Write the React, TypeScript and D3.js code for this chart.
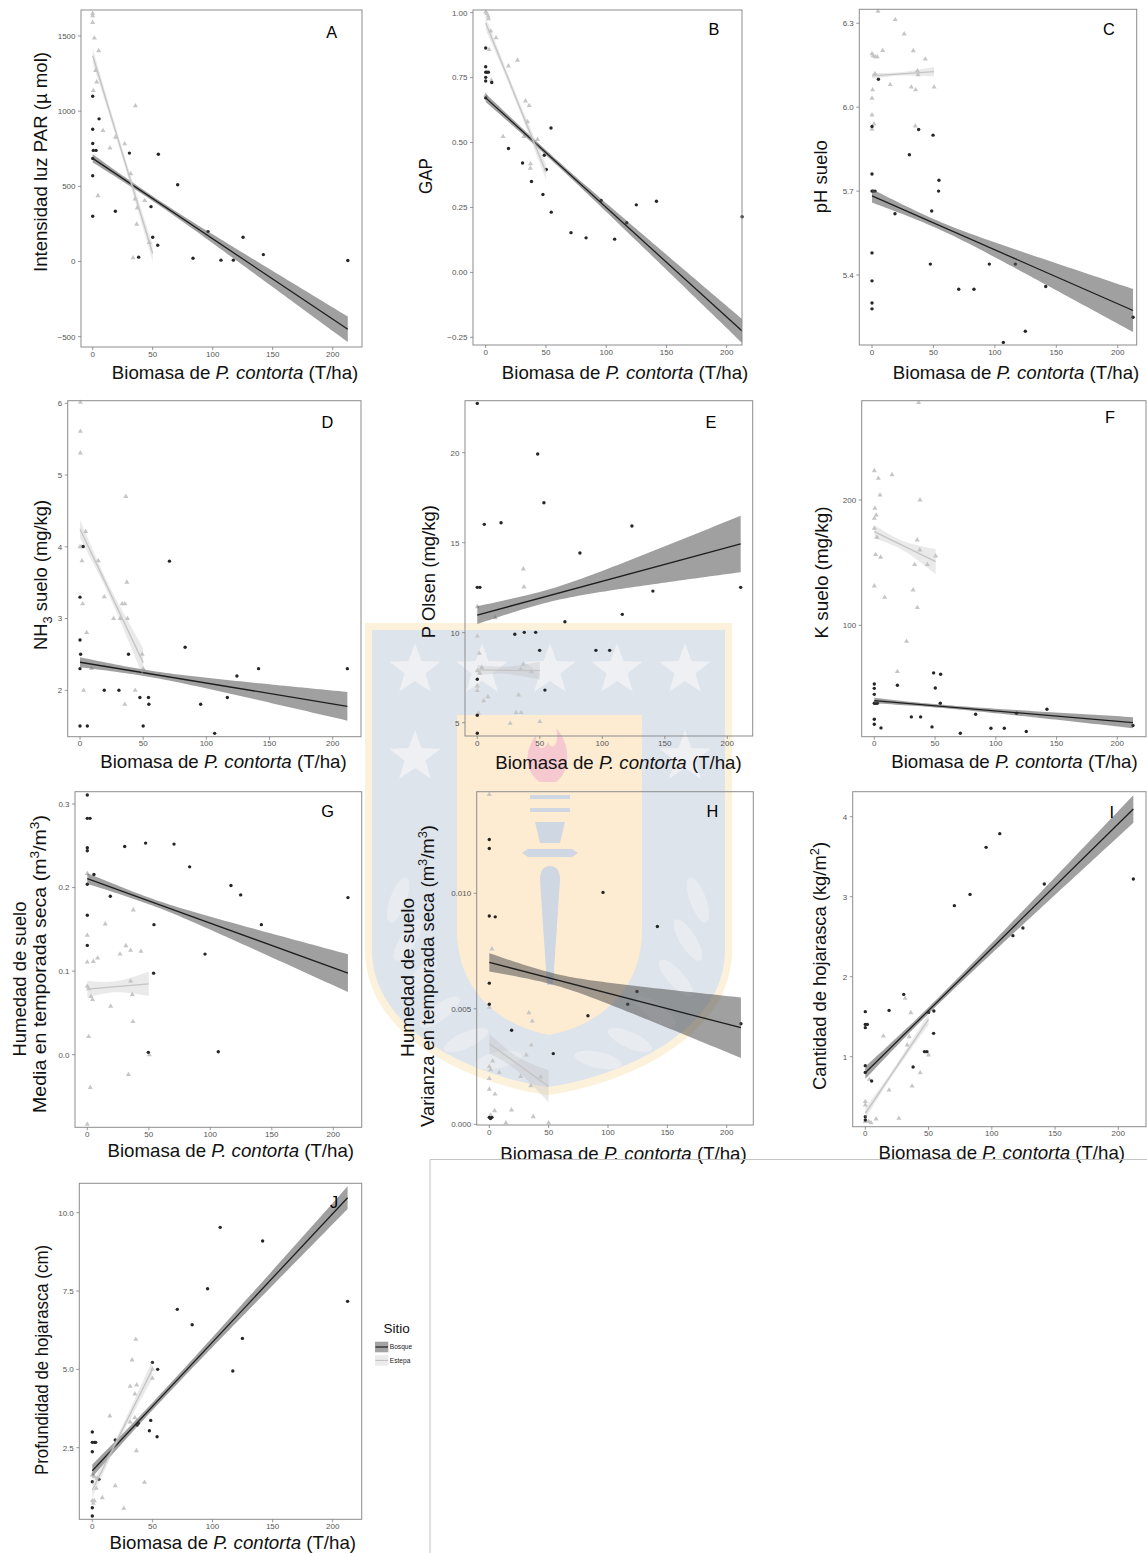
import React from "react";
import * as d3 from "d3";

type Pt = [number, number];
// fit: [xStart, xEnd, yStart, yEnd, bandHalfStart, bandHalfMin, bandHalfEnd, xAtMin]
type Fit = [number, number, number, number, number, number, number, number];

const xTicks = [0, 50, 100, 150, 200];

// ---------- A: Intensidad luz PAR ----------
const aYTicks = [-500, 0, 500, 1000, 1500];
const aBosque: Pt[] = [[0,1099],[0,880],[0,785],[0.5,739],[2.8,739],[0,686],[0,571],[0,301],[5.3,949],[18.9,334],[30.6,721],[38.3,29],[48.6,365],[50,161],[54.2,108],[54.7,714],[70.8,511],[83.6,22],[96.1,199],[106.9,9],[117.2,9],[125.3,161],[142.2,46],[212.6,7]];
const aEstepa: Pt[] = [[0,1650],[0,1635],[0,1590],[1.4,1486],[5,1402],[2.5,1270],[3.3,1194],[0.5,1137],[35.6,1035],[8.6,871],[19,827],[26.7,783],[14.4,754],[31.7,584],[4.4,438],[35.3,416],[43.3,405],[37.2,356],[36.7,248],[47.2,126],[33.6,24]];
const aFitBosque: Fit = [0, 212.6, 686, -451, 27, 16, 85, 52];
const aFitEstepa: Fit = [0, 50, 1369, 53, 50, 30, 55, 20];

// ---------- B: GAP ----------
const bYTicks = [-0.25, 0, 0.25, 0.5, 0.75, 1.0];
const bBosque: Pt[] = [[0,0.864],[0,0.792],[0,0.771],[1,0.771],[2.2,0.771],[0,0.751],[0,0.737],[0,0.672],[5,0.731],[18.9,0.477],[30.6,0.421],[38,0.35],[47.5,0.30],[48.6,0.451],[50.3,0.396],[54.2,0.556],[54.4,0.232],[70.8,0.153],[83.3,0.133],[95.8,0.277],[107,0.128],[117,0.191],[125,0.260],[141.7,0.274],[212.8,0.214]];
const bEstepa: Pt[] = [[0,1.003],[1,0.996],[2,0.987],[2.3,0.977],[4.2,0.929],[8.6,0.903],[2.8,0.858],[26.4,0.817],[18.9,0.795],[4.7,0.74],[0,0.682],[33,0.66],[36.1,0.642],[34.7,0.58],[14.4,0.523],[31.7,0.523],[43,0.512],[37.2,0.418],[37,0.401]];
const bFitBosque: Fit = [0, 212.8, 0.672, -0.226, 0.016, 0.01, 0.046, 52];
const bFitEstepa: Fit = [0, 50, 0.96, 0.387, 0.025, 0.015, 0.03, 20];

// ---------- C: pH suelo ----------
const cYTicks = [5.4, 5.7, 6.0, 6.3];
const cBosque: Pt[] = [[0,5.931],[0,5.761],[0,5.70],[1,5.70],[2.5,5.70],[0,5.479],[0,5.379],[0,5.30],[0,5.279],[5.2,6.10],[18.7,5.619],[30.4,5.830],[38,5.92],[47.5,5.439],[48.6,5.629],[49.7,5.90],[54.5,5.739],[54.2,5.70],[70.6,5.349],[83,5.349],[95.5,5.439],[106.9,5.159],[116.7,5.439],[124.8,5.199],[141.4,5.359],[212.5,5.249]];
const cEstepa: Pt[] = [[4.9,6.343],[18.9,6.313],[26.2,6.262],[0,6.191],[1,6.184],[2.5,6.18],[4.3,6.18],[8.7,6.203],[33.6,6.202],[43.4,6.172],[2.5,6.12],[37,6.13],[37.5,6.116],[14.8,6.081],[32,6.072],[35.5,6.062],[50.5,6.072],[0.5,6.062],[0,6.032],[0,5.972],[1.6,5.94],[0,5.921],[35.2,5.933]];
const cFitBosque: Fit = [0, 212.5, 5.683, 5.273, 0.024, 0.014, 0.077, 52];
const cFitEstepa: Fit = [0, 50.5, 6.112, 6.127, 0.01, 0.006, 0.017, 20];

// ---------- D: NH3 suelo ----------
const dYTicks = [2, 3, 4, 5, 6];
const dBosque: Pt[] = [[0,3.298],[0,2.702],[0.5,2.502],[0,2.302],[0,1.502],[2.6,4.005],[5.8,1.502],[19.2,2.0],[30.8,2.0],[38.4,2.502],[47.4,1.9],[50,1.502],[54.2,1.9],[54.5,1.805],[70.8,3.8],[83.2,2.6],[95.5,1.805],[106.6,1.4],[116.6,1.9],[124.2,2.2],[141.3,2.302],[211.6,2.302]];
const dEstepa: Pt[] = [[0.3,6.014],[0.3,5.609],[0.3,5.307],[36.3,4.702],[0,4.0],[1,4.0],[4.5,4.214],[1.6,3.805],[14.5,3.805],[37.1,3.507],[19.2,3.302],[33.4,3.205],[35.5,3.205],[2.1,3.205],[26.6,3.0],[31.8,3.0],[37.6,3.0],[5.3,2.805],[49.2,2.502],[50,2.3],[9,2.302],[2.9,2.0],[43.7,2.0],[35.5,1.805]];
const dFitBosque: Fit = [0, 211.6, 2.391, 1.777, 0.07, 0.045, 0.2, 52];
const dFitEstepa: Fit = [0, 50, 4.247, 2.386, 0.13, 0.07, 0.2, 20];

// ---------- E: P Olsen ----------
const eYTicks = [5, 10, 15, 20];
const eBosque: Pt[] = [[0,22.74],[0,12.52],[2.1,12.52],[0,7.41],[0,5.41],[0,4.41],[5.6,16.02],[19,16.11],[30,9.91],[37.6,10.02],[46.7,10.02],[48.3,19.93],[49.9,9.02],[53.3,17.22],[54.1,6.81],[70.1,10.61],[82.1,14.43],[94.9,9.02],[105.9,9.02],[116,11.02],[123.7,15.93],[140.5,12.31],[210.7,12.52]];
const eEstepa: Pt[] = [[36.8,13.54],[0,11.44],[37.3,12.54],[14.4,10.83],[0,9.81],[1.6,8.85],[3.5,8.07],[0,7.89],[2.1,7.74],[36.8,8.24],[34.8,7.96],[43.4,7.83],[0,7.04],[0,6.78],[8.5,6.44],[5.1,6.22],[33,6.54],[31.1,5.56],[35.1,5.56],[1,5.52],[26.3,4.96],[50,5.06]];
const eFitBosque: Fit = [0, 210.7, 10.98, 14.93, 0.5, 0.35, 1.57, 52];
const eFitEstepa: Fit = [0, 50, 7.93, 7.89, 0.27, 0.2, 0.5, 20];

// ---------- F: K suelo ----------
const fYTicks = [100, 200];
const fBosque: Pt[] = [[0,53.2],[0,49.7],[0,44.9],[0,37.8],[1.1,37.8],[2.5,37.8],[0,25],[0,21],[5.5,18.1],[19,52.1],[30.5,26.9],[38.1,26.9],[47.5,18.9],[48.8,62],[50.2,50],[54.3,37.8],[54.6,60.9],[70.8,13.8],[83.4,29],[96,17.8],[107,17.8],[117.1,29.8],[125.1,15.2],[142.1,33],[212.9,20]];
const fEstepa: Pt[] = [[36.5,277.7],[0,223.4],[14.6,220.2],[3.3,217.3],[4.7,204],[37.6,200],[0.5,193.4],[1.6,188],[0,185.4],[0,177.4],[2.2,170.2],[35.4,168.1],[37.4,160.1],[1.1,156.4],[5.2,154.3],[50.5,155.3],[43.7,148.4],[33.2,148.4],[0,131.4],[31.9,128.2],[8.5,122.3],[35.4,114.1],[26.6,87.2],[19,63]];
const fFitBosque: Fit = [0, 212.9, 39.9, 22.3, 2.2, 1.3, 4.4, 52];
const fFitEstepa: Fit = [0, 50.5, 174.7, 150.8, 5.3, 3.5, 10, 20];

// ---------- G: Humedad media ----------
const gYTicks = [0, 0.1, 0.2, 0.3];
const gBosque: Pt[] = [[0,0.3108],[0,0.2828],[2.2,0.2828],[0,0.2476],[0,0.244],[0,0.204],[0,0.1668],[0,0.1308],[5.4,0.2156],[18.7,0.1896],[30.4,0.2492],[47.4,0.2532],[49.6,0.0028],[54.2,0.1556],[53.9,0.0976],[70.5,0.252],[83.2,0.2248],[95.7,0.1204],[106.5,0.0036],[116.8,0.2024],[124.7,0.1912],[141.5,0.1556],[211.9,0.188]];
const gEstepa: Pt[] = [[0,0.2168],[0,0.1428],[0,0.1108],[4.9,0.1116],[8.4,0.1156],[14.6,0.1564],[26.6,0.1204],[31.4,0.1304],[35.2,0.1248],[43.6,0.1236],[37.4,0.1732],[35.2,0.088],[36.6,0.072],[0,0.082],[1,0.0788],[3,0.0696],[4.3,0.066],[19,0.058],[37.1,0.0396],[1.1,0.0216],[50.4,0.0],[33.4,-0.0236],[2.4,-0.0392],[0,-0.0832]];
const gFitBosque: Fit = [0, 211.9, 0.2108, 0.0976, 0.0064, 0.004, 0.0226, 52];
const gFitEstepa: Fit = [0, 50, 0.0784, 0.0848, 0.01, 0.0065, 0.0146, 20];

// ---------- H: Humedad varianza ----------
const hYTicks = [0, 0.005, 0.01];
const hBosque: Pt[] = [[0,0.01233],[0,0.01194],[0,0.00902],[5,0.00898],[0,0.00611],[0,0.0052],[0,0.0003],[2.2,0.0003],[1,0.00025],[18.8,0.00407],[53.9,0.00306],[83.1,0.0047],[95.8,0.01004],[116.6,0.0052],[124.4,0.00575],[141.6,0.00856],[212,0.00435]];
const hEstepa: Pt[] = [[0,0.01428],[2.2,0.00759],[0,0.00507],[33.4,0.00483],[36.2,0.00447],[35.4,0.00343],[31.2,0.003],[2.8,0.00274],[0,0.0025],[1.1,0.00236],[8.4,0.00224],[0,0.00198],[26.4,0.00207],[43.3,0.00205],[0,0.00152],[35,0.00167],[4.8,0.00131],[4.5,0.00059],[18.7,0.00062],[1.1,0.0004],[37,0.00033],[14,0.00006],[50,0.00006]];
const hFitBosque: Fit = [0, 212, 0.00701, 0.00418, 0.0004, 0.00025, 0.00131, 52];
const hFitEstepa: Fit = [0, 50, 0.00349, 0.00164, 0.00043, 0.0003, 0.0007, 20];

// ---------- I: Cantidad de hojarasca ----------
const iYTicks = [1, 2, 3, 4];
const iBosque: Pt[] = [[0,1.563],[0,1.404],[1.6,1.404],[0,1.363],[0,0.888],[0,0.804],[0,0.25],[0,0.208],[5,0.696],[18.8,1.579],[30.4,1.779],[37.8,0.871],[46.8,1.063],[48.7,1.063],[50,1.554],[54.2,1.571],[54,1.292],[70.4,2.888],[82.8,3.029],[95.5,3.617],[106.3,3.788],[116.7,2.513],[124.6,2.608],[141.5,3.158],[211.9,3.221]];
const iEstepa: Pt[] = [[0,0.438],[0,0.396],[0,0.19],[1,0.19],[2.7,0.19],[4.5,0.175],[8.5,0.221],[26.5,0.229],[3.2,0.717],[18.8,0.583],[14.3,1.258],[31.5,1.729],[36,1.55],[34.7,1.25],[33.1,1.146],[37,0.633],[43.4,0.8],[50,1.021]];
const iFitBosque: Fit = [0, 211.9, 0.8, 4.096, 0.077, 0.04, 0.173, 52];
const iFitEstepa: Fit = [0, 50, 0.292, 1.467, 0.07, 0.035, 0.07, 20];

// ---------- J: Profundidad de hojarasca ----------
const jYTicks = [2.5, 5.0, 7.5, 10.0];
const jBosque: Pt[] = [[0,3.0],[0,2.67],[1.7,2.67],[2.8,2.67],[0,2.372],[0,1.415],[0,0.585],[0,0.319],[5.5,1.49],[19.1,2.745],[37.3,3.223],[38.3,3.28],[47.5,3.04],[48.6,3.372],[50,5.223],[53.9,2.851],[54.4,5.0],[70.7,6.915],[83.1,6.426],[95.9,7.574],[106.4,9.532],[116.9,4.947],[124.9,5.989],[141.7,9.096],[212.4,7.17]];
const jEstepa: Pt[] = [[36.2,5.957],[33.1,5.298],[31.5,4.457],[37,4.5],[35.4,4.213],[50,5.01],[50,4.713],[14.6,3.511],[35.4,3.457],[31.5,3.319],[36.7,2.404],[19.1,1.287],[43.4,1.394],[0,1.628],[1.7,1.575],[4.1,1.521],[3.3,1.202],[8.3,0.904],[0,0.809],[1.7,0.809],[0.8,0.723],[26.2,0.564]];
const jFitBosque: Fit = [0, 212.4, 1.766, 10.479, 0.2, 0.12, 0.362, 52];
const jFitEstepa: Fit = [0, 50, 1.149, 5.0, 0.25, 0.12, 0.3, 20];

const legendTitle = "Sitio";
const legendLabels = ["Bosque", "Estepa"];

// ---------------- layout ----------------
type Part = { t: string; sub?: boolean; sup?: boolean; it?: boolean };
type YTitle = { parts: Part[]; cx: number; cy: number; len: number };
type PanelDef = {
  id: string;
  bosque: Pt[]; estepa: Pt[]; fitB: Fit; fitE: Fit;
  yTicks: number[]; yFmt: string;
  rect: [number, number, number, number];
  xPx: [number, number];
  yVals: [number, number]; yPx: [number, number];
  letter: [number, number];
  xTitle: [number, number];
  yTitles: YTitle[];
};

const P = (t: string): Part => ({ t });

const PANELS: PanelDef[] = [
  { id: "A", bosque: aBosque, estepa: aEstepa, fitB: aFitBosque, fitE: aFitEstepa, yTicks: aYTicks, yFmt: "d",
    rect: [81, 10, 362, 347], xPx: [92.7, 332.7], yVals: [1500, -500], yPx: [36, 336.7], letter: [331.7, 32.5], xTitle: [358.3, 379.3],
    yTitles: [{ parts: [P("Intensidad luz PAR (\u00b5 mol)")], cx: 40, cy: 162, len: 220 }] },
  { id: "B", bosque: bBosque, estepa: bEstepa, fitB: bFitBosque, fitE: bFitEstepa, yTicks: bYTicks, yFmt: ".2f",
    rect: [473, 10, 742, 345], xPx: [485.7, 726.7], yVals: [1, -0.25], yPx: [12.7, 337.3], letter: [714, 28.8], xTitle: [748.3, 379],
    yTitles: [{ parts: [P("GAP")], cx: 425, cy: 176, len: 36 }] },
  { id: "C", bosque: cBosque, estepa: cEstepa, fitB: cFitBosque, fitE: cFitEstepa, yTicks: cYTicks, yFmt: ".1f",
    rect: [859.3, 9.3, 1136.7, 345], xPx: [872, 1117.7], yVals: [6.3, 5.4], yPx: [23.3, 275], letter: [1109, 29], xTitle: [1139.3, 379],
    yTitles: [{ parts: [P("pH suelo")], cx: 820.5, cy: 176.7, len: 73 }] },
  { id: "D", bosque: dBosque, estepa: dEstepa, fitB: dFitBosque, fitE: dFitEstepa, yTicks: dYTicks, yFmt: "d",
    rect: [67.7, 400.7, 361, 736.7], xPx: [80, 332.7], yVals: [6, 2], yPx: [403.3, 690.3], letter: [327.5, 421.7], xTitle: [346.7, 767.7],
    yTitles: [{ parts: [P("NH"), { t: "3", sub: true }, P(" suelo (mg/kg)")], cx: 40, cy: 575, len: 150 }] },
  { id: "E", bosque: eBosque, estepa: eEstepa, fitB: eFitBosque, fitE: eFitEstepa, yTicks: eYTicks, yFmt: "d",
    rect: [465, 400.7, 752.7, 736], xPx: [477.3, 727.3], yVals: [20, 5], yPx: [452.7, 722.7], letter: [711, 421.7], xTitle: [741.7, 769],
    yTitles: [{ parts: [P("P Olsen (mg/kg)")], cx: 428, cy: 571.7, len: 133 }] },
  { id: "F", bosque: fBosque, estepa: fEstepa, fitB: fFitBosque, fitE: fFitEstepa, yTicks: fYTicks, yFmt: "d",
    rect: [861.7, 400.7, 1146, 736.7], xPx: [874.3, 1117.3], yVals: [200, 100], yPx: [500, 625.3], letter: [1110, 417], xTitle: [1137.7, 767.7],
    yTitles: [{ parts: [P("K suelo (mg/kg)")], cx: 821.5, cy: 572.5, len: 132 }] },
  { id: "G", bosque: gBosque, estepa: gEstepa, fitB: gFitBosque, fitE: gFitEstepa, yTicks: gYTicks, yFmt: ".1f",
    rect: [75, 791.7, 361.7, 1127.3], xPx: [87.3, 333.3], yVals: [0.3, 0], yPx: [804, 1054.7], letter: [327.5, 810.8], xTitle: [354, 1157],
    yTitles: [
      { parts: [P("Humedad de suelo")], cx: 19, cy: 979, len: 155 },
      { parts: [P("Media en temporada seca (m"), { t: "3", sup: true }, P("/m"), { t: "3", sup: true }, P(")")], cx: 39, cy: 964, len: 298 },
    ] },
  { id: "H", bosque: hBosque, estepa: hEstepa, fitB: hFitBosque, fitE: hFitEstepa, yTicks: hYTicks, yFmt: ".3f",
    rect: [476.7, 791.7, 753.3, 1125], xPx: [489.3, 726.7], yVals: [0.01, 0], yPx: [893.3, 1124.3], letter: [712.5, 810.8], xTitle: [746.7, 1160],
    yTitles: [
      { parts: [P("Humedad de suelo")], cx: 407, cy: 977.5, len: 159 },
      { parts: [P("Varianza en temporada seca (m"), { t: "3", sup: true }, P("/m"), { t: "3", sup: true }, P(")")], cx: 427, cy: 976, len: 302 },
    ] },
  { id: "I", bosque: iBosque, estepa: iEstepa, fitB: iFitBosque, fitE: iFitEstepa, yTicks: iYTicks, yFmt: "d",
    rect: [852.7, 791.7, 1146, 1126.7], xPx: [865.3, 1118.3], yVals: [4, 1], yPx: [816.7, 1056.7], letter: [1111.7, 812], xTitle: [1125, 1159],
    yTitles: [{ parts: [P("Cantidad de hojarasca (kg/m"), { t: "2", sup: true }, P(")")], cx: 819, cy: 966, len: 248 }] },
  { id: "J", bosque: jBosque, estepa: jEstepa, fitB: jFitBosque, fitE: jFitEstepa, yTicks: jYTicks, yFmt: ".1f",
    rect: [79.3, 1183.3, 361.7, 1519.3], xPx: [92.3, 332.7], yVals: [10, 2.5], yPx: [1212.7, 1447.7], letter: [334, 1202], xTitle: [356, 1549.3],
    yTitles: [{ parts: [P("Profundidad de hojarasca (cm)")], cx: 41.7, cy: 1360, len: 230 }] },
];

const FONT = "'Liberation Sans', Arial, Helvetica, sans-serif";
const TITLE_FS = 18.5;
const C_BOSQUE = "#262626";
const C_ESTEPA = "#c6c6c6";

function fitY(f: Fit, x: number) {
  return f[2] + ((f[3] - f[2]) * (x - f[0])) / (f[1] - f[0]);
}
function fitHalf(f: Fit, x: number) {
  const [x0, x1, , , hs, hm, he, xc] = f;
  const d = x - xc;
  const dEnd = d < 0 ? x0 - xc : x1 - xc;
  const hEnd = d < 0 ? hs : he;
  const c = dEnd === 0 ? 0 : (hEnd * hEnd - hm * hm) / (dEnd * dEnd);
  return Math.sqrt(hm * hm + c * d * d);
}

function renderParts(parts: Part[], fs: number) {
  const out: React.ReactNode[] = [];
  let shift = 0;
  parts.forEach((p, i) => {
    let target = 0;
    if (p.sub) target = fs * 0.3;
    if (p.sup) target = -fs * 0.38;
    const dy = target - shift;
    shift = target;
    out.push(
      <tspan key={i} dy={dy || undefined} fontSize={p.sub || p.sup ? fs * 0.7 : undefined} fontStyle={p.it ? "italic" : undefined}>
        {p.t}
      </tspan>
    );
  });
  return out;
}

function Panel({ p }: { p: PanelDef }) {
  const [L, T, R, B] = p.rect;
  const xs = d3.scaleLinear().domain([0, 200]).range(p.xPx);
  const ys = d3.scaleLinear().domain(p.yVals).range(p.yPx);
  const clipId = `clip${p.id}`;
  const fmt = d3.format(p.yFmt);
  const tri = d3.symbol().type(d3.symbolTriangle).size(11)()!;

  const ribbon = (f: Fit) => {
    const pts = d3.range(0, 61).map((i) => f[0] + ((f[1] - f[0]) * i) / 60);
    return d3
      .area<number>()
      .x((x) => xs(x))
      .y0((x) => ys(fitY(f, x) - fitHalf(f, x)))
      .y1((x) => ys(fitY(f, x) + fitHalf(f, x)))(pts)!;
  };
  const line = (f: Fit) =>
    d3.line<number>().x((x) => xs(x)).y((x) => ys(fitY(f, x)))([f[0], f[1]])!;

  return (
    <g>
      <defs>
        <clipPath id={clipId}>
          <rect x={L} y={T} width={R - L} height={B - T} />
        </clipPath>
      </defs>
      {p.estepa.map((d, i) => (
        <path key={`e${i}`} d={tri} transform={`translate(${xs(d[0])},${ys(d[1])})`} fill={C_ESTEPA} />
      ))}
      {p.bosque.map((d, i) => (
        <circle key={`b${i}`} cx={xs(d[0])} cy={ys(d[1])} r={1.7} fill={C_BOSQUE} />
      ))}
      <g clipPath={`url(#${clipId})`}>
        <path d={ribbon(p.fitB)} fill="#505050" fillOpacity={0.54} />
        <path d={line(p.fitB)} stroke="#1e1e1e" strokeWidth={1.3} fill="none" />
        <path d={ribbon(p.fitE)} fill="#bdbdbd" fillOpacity={0.32} />
        <path d={line(p.fitE)} stroke="#c4c4c4" strokeWidth={1.3} fill="none" />
      </g>
      <rect x={L} y={T} width={R - L} height={B - T} fill="none" stroke="#8c8c8c" strokeWidth={1} />
      {p.yTicks.map((v) => (
        <g key={`yt${v}`}>
          <line x1={L - 3} x2={L} y1={ys(v)} y2={ys(v)} stroke="#7f7f7f" strokeWidth={0.8} />
          <text x={L - 5.5} y={ys(v)} dy="0.35em" textAnchor="end" fontSize={8} fill="#555" fontFamily={FONT}>
            {fmt(v)}
          </text>
        </g>
      ))}
      {xTicks.map((v) => (
        <g key={`xt${v}`}>
          <line x1={xs(v)} x2={xs(v)} y1={B} y2={B + 3} stroke="#7f7f7f" strokeWidth={0.8} />
          <text x={xs(v)} y={B + 9.5} textAnchor="middle" fontSize={8} fill="#555" fontFamily={FONT}>
            {v}
          </text>
        </g>
      ))}
      <text x={p.letter[0]} y={p.letter[1] + 5.8} textAnchor="middle" fontSize={16.3} fill="#000" fontFamily={FONT}>
        {p.id}
      </text>
      <text x={p.xTitle[0]} y={p.xTitle[1]} textAnchor="end" fontSize={TITLE_FS} fill="#111" fontFamily={FONT}
        textLength={246.5} lengthAdjust="spacingAndGlyphs">
        <tspan>Biomasa de </tspan>
        <tspan fontStyle="italic">P. contorta</tspan>
        <tspan> (T/ha)</tspan>
      </text>
      {p.yTitles.map((t, i) => (
        <text key={`yti${i}`} transform={`translate(${t.cx + 0.358 * TITLE_FS},${t.cy}) rotate(-90)`} textAnchor="middle"
          fontSize={TITLE_FS} fill="#111" fontFamily={FONT} textLength={t.len} lengthAdjust="spacingAndGlyphs">
          {renderParts(t.parts, TITLE_FS)}
        </text>
      ))}
    </g>
  );
}

function starPath(cx: number, cy: number, R: number, r: number) {
  const pts: [number, number][] = d3.range(10).map((i) => {
    const a = -Math.PI / 2 + (i * Math.PI) / 5;
    const rad = i % 2 === 0 ? R : r;
    return [cx + rad * Math.cos(a), cy + rad * Math.sin(a)];
  });
  return "M" + pts.map((p) => p.join(",")).join("L") + "Z";
}

function Watermark() {
  const stars: [number, number][] = [[415, 670], [482, 670], [550, 670], [617, 670], [685, 670], [415, 757], [685, 757]];
  const leaves: [number, number, number][] = [[398, 900, -70], [408, 940, -58], [420, 978, -48], [440, 1012, -36], [466, 1040, -24], [498, 1060, -12]];
  return (
    <g>
      <path d="M365,623 H732 V950 C732,1040 620,1085 548,1095 C476,1085 365,1040 365,950 Z" fill="#fcf1da" />
      <path d="M372,630 H725 V950 C725,1033 618,1077 548,1087 C478,1077 372,1033 372,950 Z" fill="#dee4ec" />
      {stars.map((s, i) => (
        <path key={i} d={starPath(s[0], s[1], 27, 11)} fill="#eef0f4" />
      ))}
      {leaves.map((l, i) => (
        <g key={`l${i}`}>
          <ellipse cx={l[0]} cy={l[1]} rx={24} ry={8} transform={`rotate(${l[2]},${l[0]},${l[1]})`} fill="#e8ecf1" />
          <ellipse cx={1096 - l[0]} cy={l[1]} rx={24} ry={8} transform={`rotate(${-l[2]},${1096 - l[0]},${l[1]})`} fill="#e8ecf1" />
        </g>
      ))}
      <path d="M457,715 H642 V930 C642,990 600,1025 549,1035 C498,1025 457,990 457,930 Z" fill="#fdecd2" />
      <path d="M540,782 C522,770 526,748 536,735 C536,750 544,752 548,742 C552,752 560,745 556,728 C572,745 570,772 556,782 Z" fill="#f5c9cf" />
      <rect x={530} y={795} width={40} height={4} fill="#cfd7e3" />
      <rect x={530} y={808} width={40} height={4} fill="#cfd7e3" />
      <path d="M535,822 H565 L560,843 H540 Z" fill="#cfd7e3" />
      <path d="M522,853 L528,849 H572 L578,853 L572,857 H528 Z" fill="#cfd7e3" />
      <path d="M540,880 Q540,866 550,866 Q560,866 560,880 L553,985 L547,985 Z" fill="#cfd7e3" />
    </g>
  );
}

export default function App() {
  return (
    <svg width={1147} height={1553} viewBox="0 0 1147 1553"
      style={{ position: "absolute", left: 0, top: 0, display: "block", background: "#fff" }}>
      <rect x={0} y={0} width={1147} height={1553} fill="#fff" />
      <Watermark />
      {PANELS.map((p) => (
        <Panel key={p.id} p={p} />
      ))}
      <line x1={430} x2={1147} y1={1159.5} y2={1159.5} stroke="#c4c4c4" strokeWidth={1} />
      <line x1={430} x2={430} y1={1159.5} y2={1553} stroke="#c4c4c4" strokeWidth={1} />
      <g fontFamily={FONT}>
        <text x={396.7} y={1333} textAnchor="middle" fontSize={13.5} fill="#111">{legendTitle}</text>
        {legendLabels.map((lab, i) => {
          const y = 1341.7 + i * 13.4;
          return (
            <g key={lab}>
              <rect x={375} y={y} width={13.3} height={10.6} fill={i === 0 ? "#a3a3a3" : "#ebebeb"} />
              <line x1={375.5} x2={388} y1={y + 5.3} y2={y + 5.3} stroke={i === 0 ? "#1e1e1e" : "#c4c4c4"} strokeWidth={1.2} />
              <text x={389.8} y={y + 7.6} fontSize={6.6} fill="#222">{lab}</text>
            </g>
          );
        })}
      </g>
    </svg>
  );
}
